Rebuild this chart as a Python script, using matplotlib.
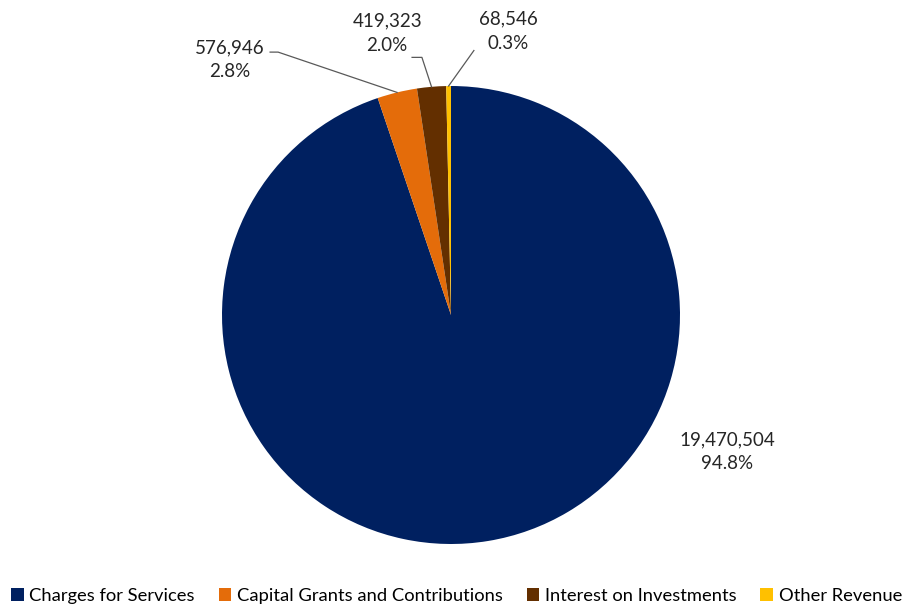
import numpy as np
import matplotlib
matplotlib.use('Agg')
import matplotlib.pyplot as plt

categories = ['Charges for Services', 'Capital Grants and Contributions',
              'Interest on Investments', 'Other Revenue']
values = [19470504, 576946, 419323, 68546]
colors = ['#002060', '#E46C0A', '#632F00', '#FFC000']

plt.rcParams['font.family'] = ['Lato', 'DejaVu Sans']

W, H = 904, 604
cx, cy, R = 451, 315, 229
fig = plt.figure(figsize=(W / 100, H / 100), dpi=100)
ax = fig.add_axes([0, 0, 1, 1])

wedges, _ = ax.pie(values, colors=colors, startangle=90, counterclock=False,
                   radius=1, wedgeprops=dict(linewidth=0))
# pie resets the limits, so set them afterwards
ax.set_xlim(-cx / R, (W - cx) / R)
ax.set_ylim(-(H - cy) / R, cy / R)
ax.set_aspect('equal')
ax.axis('off')

total = sum(values)
labels = ['{:,}\n{:.1f}%'.format(v, v / total * 100) for v in values]

# label positions (data units, pie radius = 1) and leader start points
label_pos = [(1.205, -0.598), (-0.965, 1.114), (-0.279, 1.231), (0.249, 1.24)]
leaders = [None,
           [(-0.79, 1.148), (-0.755, 1.148)],
           [(-0.17, 1.125), (-0.127, 1.125)],
           [(0.10, 1.155)]]

for i, w in enumerate(wedges):
    ax.text(label_pos[i][0], label_pos[i][1], labels[i], ha='center', va='center',
            fontsize=13.5, color='#262626', linespacing=1.5)
    if leaders[i] is None:
        continue
    mid = np.radians((w.theta1 + w.theta2) / 2)
    pts = leaders[i] + [(np.cos(mid), np.sin(mid))]
    xs, ys = zip(*pts)
    ax.plot(xs, ys, color='#595959', lw=0.9)

fig.legend(wedges, categories, loc='center', bbox_to_anchor=(0.505, 8 / H), ncol=4,
           frameon=False, fontsize=13.2, handlelength=0.7, handleheight=0.7,
           handletextpad=0.3, columnspacing=1.3, borderaxespad=0, borderpad=0)

fig.savefig('out.png', dpi=100)
